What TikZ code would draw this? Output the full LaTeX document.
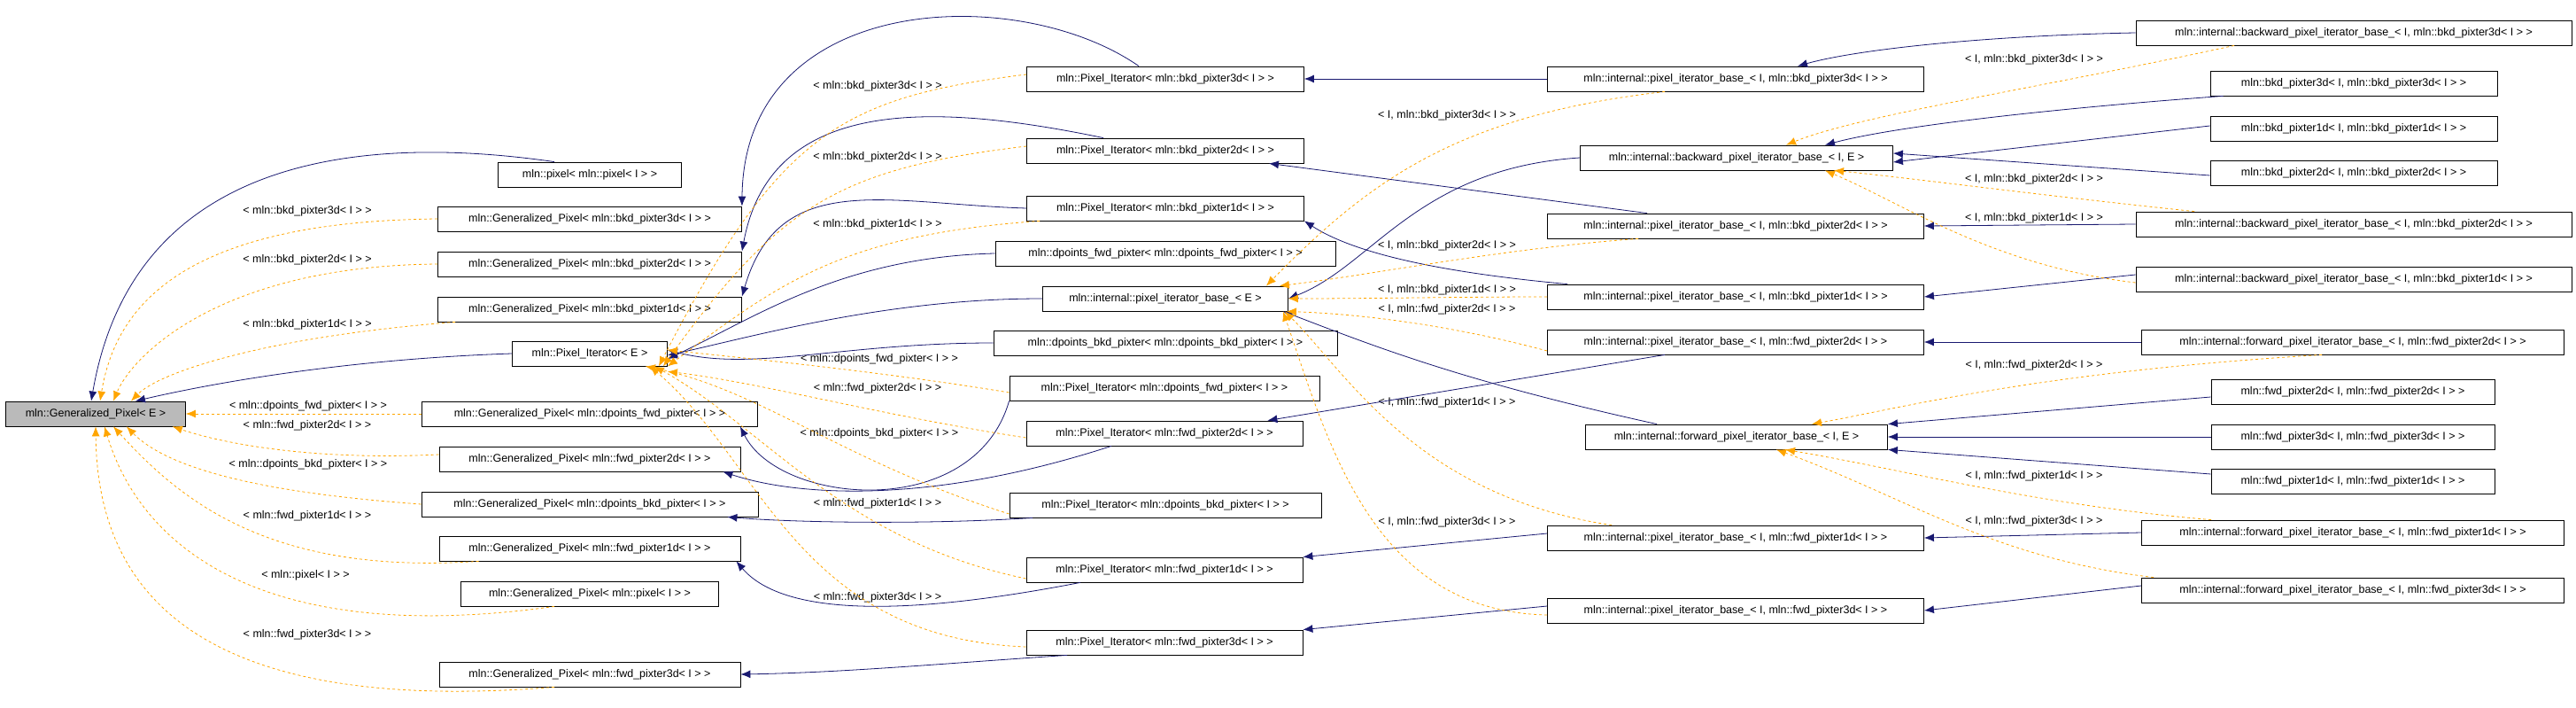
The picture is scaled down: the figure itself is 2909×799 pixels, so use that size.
\documentclass[tikz,border=0pt]{standalone}
\usepackage{fontspec}
\setmainfont{Liberation Sans}
\usepackage{xcolor}
\usetikzlibrary{arrows.meta}
\definecolor{EdgeBlue}{RGB}{25,25,112}
\definecolor{EdgeOrange}{RGB}{255,165,0}

\begin{document}
\begin{tikzpicture}[x=1pt, y=-1pt,
	ClassNode/.style={rectangle, draw=black, fill=white, thick, minimum height=28pt, inner sep=2pt, font=\fontsize{12.5}{14}\selectfont},
	BaseNode/.style={ClassNode, fill=black!27},
	InhEdge/.style={EdgeBlue, thick, -{Latex[length=11pt, width=9pt]}},
	TmplEdge/.style={EdgeOrange, thick, dashed, -{Latex[length=11pt, width=9pt]}},
	TmplLabel/.style={font=\fontsize{12.5}{14}\selectfont, inner sep=1pt}]

	\useasboundingbox (0,0) rectangle (2909,799);

	% Nodes
	\node[BaseNode, minimum width=203pt] (gpE) at (108,467) {mln::Generalized\_Pixel< E >};

	\node[ClassNode, minimum width=207pt] (pxpx) at (666,197) {mln::pixel< mln::pixel< I > >};
	\node[ClassNode, minimum width=343pt] (gpb3) at (666,247) {mln::Generalized\_Pixel< mln::bkd\_pixter3d< I > >};
	\node[ClassNode, minimum width=343pt] (gpb2) at (666,298) {mln::Generalized\_Pixel< mln::bkd\_pixter2d< I > >};
	\node[ClassNode, minimum width=343pt] (gpb1) at (666,349) {mln::Generalized\_Pixel< mln::bkd\_pixter1d< I > >};
	\node[ClassNode, minimum width=175pt] (piE) at (666,399) {mln::Pixel\_Iterator< E >};
	\node[ClassNode, minimum width=379pt] (gpdf) at (666,467) {mln::Generalized\_Pixel< mln::dpoints\_fwd\_pixter< I > >};
	\node[ClassNode, minimum width=340pt] (gpf2) at (666,518) {mln::Generalized\_Pixel< mln::fwd\_pixter2d< I > >};
	\node[ClassNode, minimum width=380pt] (gpdb) at (666,569) {mln::Generalized\_Pixel< mln::dpoints\_bkd\_pixter< I > >};
	\node[ClassNode, minimum width=340pt] (gpf1) at (666,619) {mln::Generalized\_Pixel< mln::fwd\_pixter1d< I > >};
	\node[ClassNode, minimum width=291pt] (gppx) at (666,670) {mln::Generalized\_Pixel< mln::pixel< I > >};
	\node[ClassNode, minimum width=340pt] (gpf3) at (666,761) {mln::Generalized\_Pixel< mln::fwd\_pixter3d< I > >};

	\node[ClassNode, minimum width=313pt] (pib3) at (1316,89) {mln::Pixel\_Iterator< mln::bkd\_pixter3d< I > >};
	\node[ClassNode, minimum width=313pt] (pib2) at (1316,170) {mln::Pixel\_Iterator< mln::bkd\_pixter2d< I > >};
	\node[ClassNode, minimum width=313pt] (pib1) at (1316,235) {mln::Pixel\_Iterator< mln::bkd\_pixter1d< I > >};
	\node[ClassNode, minimum width=384pt] (dfp) at (1316,286) {mln::dpoints\_fwd\_pixter< mln::dpoints\_fwd\_pixter< I > >};
	\node[ClassNode, minimum width=277pt] (pibE) at (1316,337) {mln::internal::pixel\_iterator\_base\_< E >};
	\node[ClassNode, minimum width=388pt] (dbp) at (1316,387) {mln::dpoints\_bkd\_pixter< mln::dpoints\_bkd\_pixter< I > >};
	\node[ClassNode, minimum width=350pt] (pidf) at (1315,438) {mln::Pixel\_Iterator< mln::dpoints\_fwd\_pixter< I > >};
	\node[ClassNode, minimum width=312pt] (pif2) at (1315,489) {mln::Pixel\_Iterator< mln::fwd\_pixter2d< I > >};
	\node[ClassNode, minimum width=352pt] (pidb) at (1316,570) {mln::Pixel\_Iterator< mln::dpoints\_bkd\_pixter< I > >};
	\node[ClassNode, minimum width=312pt] (pif1) at (1315,643) {mln::Pixel\_Iterator< mln::fwd\_pixter1d< I > >};
	\node[ClassNode, minimum width=312pt] (pif3) at (1315,725) {mln::Pixel\_Iterator< mln::fwd\_pixter3d< I > >};

	\node[ClassNode, minimum width=425pt] (ibb3) at (1960,89) {mln::internal::pixel\_iterator\_base\_< I, mln::bkd\_pixter3d< I > >};
	\node[ClassNode, minimum width=353pt] (bwE) at (1961,178) {mln::internal::backward\_pixel\_iterator\_base\_< I, E >};
	\node[ClassNode, minimum width=425pt] (ibb2) at (1960,255) {mln::internal::pixel\_iterator\_base\_< I, mln::bkd\_pixter2d< I > >};
	\node[ClassNode, minimum width=425pt] (ibb1) at (1960,335) {mln::internal::pixel\_iterator\_base\_< I, mln::bkd\_pixter1d< I > >};
	\node[ClassNode, minimum width=425pt] (ibf2) at (1960,386) {mln::internal::pixel\_iterator\_base\_< I, mln::fwd\_pixter2d< I > >};
	\node[ClassNode, minimum width=341pt] (fwE) at (1961,493) {mln::internal::forward\_pixel\_iterator\_base\_< I, E >};
	\node[ClassNode, minimum width=425pt] (ibf1) at (1960,607) {mln::internal::pixel\_iterator\_base\_< I, mln::fwd\_pixter1d< I > >};
	\node[ClassNode, minimum width=425pt] (ibf3) at (1960,689) {mln::internal::pixel\_iterator\_base\_< I, mln::fwd\_pixter3d< I > >};

	\node[ClassNode, minimum width=492pt] (bwb3) at (2658,37) {mln::internal::backward\_pixel\_iterator\_base\_< I, mln::bkd\_pixter3d< I > >};
	\node[ClassNode, minimum width=324pt] (bp3) at (2658,94) {mln::bkd\_pixter3d< I, mln::bkd\_pixter3d< I > >};
	\node[ClassNode, minimum width=324pt] (bp1) at (2658,145) {mln::bkd\_pixter1d< I, mln::bkd\_pixter1d< I > >};
	\node[ClassNode, minimum width=324pt] (bp2) at (2658,195) {mln::bkd\_pixter2d< I, mln::bkd\_pixter2d< I > >};
	\node[ClassNode, minimum width=492pt] (bwb2) at (2658,253) {mln::internal::backward\_pixel\_iterator\_base\_< I, mln::bkd\_pixter2d< I > >};
	\node[ClassNode, minimum width=492pt] (bwb1) at (2658,315) {mln::internal::backward\_pixel\_iterator\_base\_< I, mln::bkd\_pixter1d< I > >};
	\node[ClassNode, minimum width=477pt] (fwf2) at (2657,386) {mln::internal::forward\_pixel\_iterator\_base\_< I, mln::fwd\_pixter2d< I > >};
	\node[ClassNode, minimum width=320pt] (fp2) at (2657,442) {mln::fwd\_pixter2d< I, mln::fwd\_pixter2d< I > >};
	\node[ClassNode, minimum width=320pt] (fp3) at (2657,493) {mln::fwd\_pixter3d< I, mln::fwd\_pixter3d< I > >};
	\node[ClassNode, minimum width=320pt] (fp1) at (2657,543) {mln::fwd\_pixter1d< I, mln::fwd\_pixter1d< I > >};
	\node[ClassNode, minimum width=477pt] (fwf1) at (2657,601) {mln::internal::forward\_pixel\_iterator\_base\_< I, mln::fwd\_pixter1d< I > >};
	\node[ClassNode, minimum width=477pt] (fwf3) at (2657,666) {mln::internal::forward\_pixel\_iterator\_base\_< I, mln::fwd\_pixter3d< I > >};

	% Labels
	\node[TmplLabel] (lgb3) at (347,238) {< mln::bkd\_pixter3d< I > >};
	\node[TmplLabel] (lgb2) at (347,293) {< mln::bkd\_pixter2d< I > >};
	\node[TmplLabel] (lgb1) at (347,366) {< mln::bkd\_pixter1d< I > >};
	\node[TmplLabel] (lgdf) at (348,458) {< mln::dpoints\_fwd\_pixter< I > >};
	\node[TmplLabel] (lgf2) at (347,480) {< mln::fwd\_pixter2d< I > >};
	\node[TmplLabel] (lgdb) at (348,524) {< mln::dpoints\_bkd\_pixter< I > >};
	\node[TmplLabel] (lgf1) at (347,582) {< mln::fwd\_pixter1d< I > >};
	\node[TmplLabel] (lgpx) at (345,649) {< mln::pixel< I > >};
	\node[TmplLabel] (lgf3) at (347,716) {< mln::fwd\_pixter3d< I > >};

	\node[TmplLabel] (lpb3) at (991,97) {< mln::bkd\_pixter3d< I > >};
	\node[TmplLabel] (lpb2) at (991,177) {< mln::bkd\_pixter2d< I > >};
	\node[TmplLabel] (lpb1) at (991,253) {< mln::bkd\_pixter1d< I > >};
	\node[TmplLabel] (lpdf) at (993,405) {< mln::dpoints\_fwd\_pixter< I > >};
	\node[TmplLabel] (lpf2) at (991,438) {< mln::fwd\_pixter2d< I > >};
	\node[TmplLabel] (lpdb) at (993,489) {< mln::dpoints\_bkd\_pixter< I > >};
	\node[TmplLabel] (lpf1) at (991,568) {< mln::fwd\_pixter1d< I > >};
	\node[TmplLabel] (lpf3) at (991,674) {< mln::fwd\_pixter3d< I > >};

	\node[TmplLabel] (lib3) at (1634,130) {< I, mln::bkd\_pixter3d< I > >};
	\node[TmplLabel] (lib2) at (1634,277) {< I, mln::bkd\_pixter2d< I > >};
	\node[TmplLabel] (lib1) at (1634,327) {< I, mln::bkd\_pixter1d< I > >};
	\node[TmplLabel] (lif2) at (1634,349) {< I, mln::fwd\_pixter2d< I > >};
	\node[TmplLabel] (lif1) at (1634,454) {< I, mln::fwd\_pixter1d< I > >};
	\node[TmplLabel] (lif3) at (1634,589) {< I, mln::fwd\_pixter3d< I > >};

	\node[TmplLabel] (lbb3) at (2297,67) {< I, mln::bkd\_pixter3d< I > >};
	\node[TmplLabel] (lbb2) at (2297,202) {< I, mln::bkd\_pixter2d< I > >};
	\node[TmplLabel] (lbb1) at (2297,246) {< I, mln::bkd\_pixter1d< I > >};
	\node[TmplLabel] (lff2) at (2297,412) {< I, mln::fwd\_pixter2d< I > >};
	\node[TmplLabel] (lff1) at (2297,537) {< I, mln::fwd\_pixter1d< I > >};
	\node[TmplLabel] (lff3) at (2297,588) {< I, mln::fwd\_pixter3d< I > >};

	% Lines
	\draw[InhEdge] ([xshift=-40pt]pxpx.north) .. controls (400,150) and (150,180) .. ([xshift=-5pt]gpE.north);
	\draw[InhEdge] (piE.west) .. controls (400,405) and (250,430) .. ([xshift=45pt]gpE.north);
	\draw[InhEdge] ([xshift=-30pt]pib3.north) .. controls (1150,-20) and (840,-10) .. (gpb3.north east);
	\draw[InhEdge] ([xshift=-70pt]pib2.north) .. controls (1050,115) and (870,110) .. (gpb2.north east);
	\draw[InhEdge] (pib1.west) .. controls (1000,230) and (880,190) .. (gpb1.north east);
	\draw[InhEdge] (dfp.west) .. controls (950,290) and (850,360) .. ([yshift=-6pt]piE.east);
	\draw[InhEdge] (pibE.west) .. controls (1000,337) and (850,380) .. ([yshift=-2pt]piE.east);
	\draw[InhEdge] (dbp.west) .. controls (950,387) and (850,420) .. ([yshift=4pt]piE.east);
	\draw[InhEdge] (pidf.south west) .. controls (1100,590) and (880,570) .. ([xshift=-20pt]gpdf.south east);
	\draw[InhEdge] ([xshift=-60pt]pif2.south) .. controls (1050,570) and (900,560) .. ([xshift=-20pt]gpf2.south east);
	\draw[InhEdge] ([xshift=-150pt]pidb.south) .. controls (1050,592) and (900,590) .. ([xshift=-35pt]gpdb.south east);
	\draw[InhEdge] ([xshift=-95pt]pif1.south) .. controls (1000,700) and (880,690) .. ([xshift=-5pt]gpf1.south east);
	\draw[InhEdge] ([xshift=-110pt]pif3.south) .. controls (1050,750) and (950,759) .. (gpf3.east);

	\draw[InhEdge] (ibb3.west) -- (pib3.east);
	\draw[InhEdge] ([xshift=-100pt]ibb2.north) -- ([xshift=-40pt]pib2.south east);
	\draw[InhEdge] ([xshift=-190pt]ibb1.north) .. controls (1600,305) and (1520,280) .. (pib1.south east);
	\draw[InhEdge] ([xshift=-80pt]ibf2.south) -- ([xshift=-40pt]pif2.north east);
	\draw[InhEdge] ([yshift=5pt]ibf1.west) -- (pif1.north east);
	\draw[InhEdge] ([yshift=5pt]ibf3.west) -- (pif3.north east);
	\draw[InhEdge] (bwE.west) .. controls (1600,190) and (1550,300) .. (pibE.east);
	\draw[InhEdge] ([xshift=-90pt]fwE.north) .. controls (1650,430) and (1550,390) .. ([xshift=-6pt]pibE.south east);

	\draw[InhEdge] (bwb3.west) .. controls (2250,40) and (2100,55) .. ([xshift=70pt]ibb3.north);
	\draw[InhEdge] (bwb2.west) -- (ibb2.east);
	\draw[InhEdge] ([yshift=5pt]bwb1.west) -- (ibb1.east);
	\draw[InhEdge] (fwf2.west) -- (ibf2.east);
	\draw[InhEdge] (fwf1.west) -- (ibf1.east);
	\draw[InhEdge] ([yshift=5pt]fwf3.west) -- (ibf3.east);
	\draw[InhEdge] ([xshift=15pt]bp3.south west) .. controls (2350,120) and (2150,140) .. ([xshift=100pt]bwE.north);
	\draw[InhEdge] ([yshift=3pt]bp1.west) -- ([yshift=-5pt]bwE.east);
	\draw[InhEdge] ([yshift=-3pt]bp2.west) -- ([yshift=5pt]bwE.east);
	\draw[InhEdge] ([yshift=-6pt]fp2.west) -- (fwE.north east);
	\draw[InhEdge] (fp3.west) -- (fwE.east);
	\draw[InhEdge] ([yshift=8pt]fp1.west) -- (fwE.south east);

	\draw[TmplEdge] (gpb3.west) .. controls (200,250) and (130,350) .. ([xshift=5pt]gpE.north);
	\draw[TmplEdge] (gpb2.west) .. controls (250,300) and (150,400) .. ([xshift=20pt]gpE.north);
	\draw[TmplEdge] ([xshift=20pt]gpb1.south west) .. controls (300,380) and (180,420) .. ([xshift=40pt]gpE.north);
	\draw[TmplEdge] (gpdf.west) -- (gpE.east);
	\draw[TmplEdge] ([yshift=5pt]gpf2.west) .. controls (350,520) and (250,500) .. ([xshift=-15pt]gpE.south east);
	\draw[TmplEdge] (gpdb.west) .. controls (350,560) and (200,540) .. ([xshift=35pt]gpE.south);
	\draw[TmplEdge] ([xshift=45pt]gpf1.south west) .. controls (300,650) and (200,560) .. ([xshift=20pt]gpE.south);
	\draw[TmplEdge] ([xshift=-40pt]gppx.south) .. controls (300,730) and (160,620) .. ([xshift=10pt]gpE.south);
	\draw[TmplEdge] ([xshift=-40pt]gpf3.south) .. controls (200,810) and (110,650) .. (gpE.south);

	\draw[TmplEdge] ([yshift=5pt]pib3.west) .. controls (950,110) and (880,150) .. ([xshift=-10pt]piE.south east);
	\draw[TmplEdge] ([yshift=5pt]pib2.west) .. controls (950,190) and (880,230) .. ([xshift=-5pt]piE.south east);
	\draw[TmplEdge] ([xshift=15pt]pib1.south west) .. controls (950,265) and (880,320) .. (piE.south east);
	\draw[TmplEdge] ([yshift=-5pt]pidf.west) .. controls (1000,420) and (850,405) .. ([yshift=4pt]piE.east);
	\draw[TmplEdge] ([yshift=-5pt]pif2.west) .. controls (1000,470) and (850,430) .. ([yshift=-6pt]piE.south east);
	\draw[TmplEdge] ([yshift=-10pt]pidb.west) .. controls (950,520) and (860,440) .. ([xshift=-25pt]piE.south east);
	\draw[TmplEdge] ([yshift=-10pt]pif1.west) .. controls (950,610) and (860,480) .. ([xshift=-15pt]piE.south east);
	\draw[TmplEdge] ([yshift=-5pt]pif3.west) .. controls (900,720) and (860,520) .. ([xshift=-20pt]piE.south east);

	\draw[TmplEdge] ([xshift=-80pt]ibb3.south) .. controls (1650,130) and (1550,200) .. ([xshift=-25pt]pibE.north east);
	\draw[TmplEdge] ([xshift=-110pt]ibb2.south) .. controls (1700,280) and (1550,310) .. ([xshift=-10pt]pibE.north east);
	\draw[TmplEdge] (ibb1.west) .. controls (1650,335) and (1550,337) .. (pibE.east);
	\draw[TmplEdge] ([yshift=-10pt]ibf2.west) .. controls (1650,370) and (1550,355) .. ([xshift=-2pt]pibE.south east);
	\draw[TmplEdge] ([xshift=-140pt]ibf1.north) .. controls (1600,560) and (1520,420) .. ([xshift=-4pt]pibE.south east);
	\draw[TmplEdge] ([yshift=-5pt]ibf3.west) .. controls (1550,690) and (1500,500) .. ([xshift=-6pt]pibE.south east);

	\draw[TmplEdge] ([xshift=-135pt]bwb3.south) .. controls (2300,100) and (2100,130) .. ([xshift=56pt]bwE.north);
	\draw[TmplEdge] ([xshift=-180pt]bwb2.north) .. controls (2300,220) and (2150,200) .. ([xshift=110pt]bwE.south);
	\draw[TmplEdge] ([yshift=-4pt]bwb1.west) .. controls (2250,300) and (2150,230) .. ([xshift=100pt]bwE.south);
	\draw[TmplEdge] ([xshift=-35pt]fwf2.south) .. controls (2300,420) and (2150,460) .. ([xshift=85pt]fwE.north);
	\draw[TmplEdge] ([xshift=-160pt]fwf1.north) .. controls (2300,570) and (2150,530) .. ([xshift=55pt]fwE.south);
	\draw[TmplEdge] ([xshift=-225pt]fwf3.north) .. controls (2250,630) and (2150,560) .. ([xshift=45pt]fwE.south);
\end{tikzpicture}
\end{document}
